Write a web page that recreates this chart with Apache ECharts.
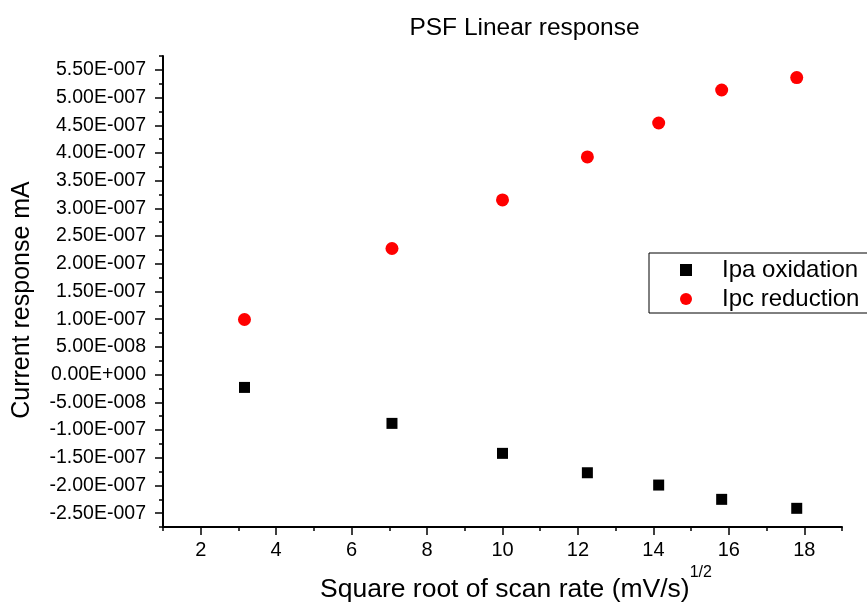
<!DOCTYPE html>
<html>
<head>
<meta charset="utf-8">
<script src="https://cdn.jsdelivr.net/npm/echarts@6/dist/echarts.min.js"></script>
<style>html,body{margin:0;padding:0;background:#fff;}#c{width:867px;height:604px;}</style>
</head>
<body>
<div id="c"></div>
<script>
// Data
var xValues = [3.16, 7.07, 10.0, 12.25, 14.14, 15.81, 17.80];
var ipaOxidation = [-2.31e-8, -8.80e-8, -1.421e-7, -1.771e-7, -1.993e-7, -2.251e-7, -2.413e-7];
var ipcReduction = [9.95e-8, 2.276e-7, 3.152e-7, 3.928e-7, 4.541e-7, 5.136e-7, 5.36e-7];
var seriesNames = ['Ipa oxidation', 'Ipc reduction'];
var xTickValues = [2, 4, 6, 8, 10, 12, 14, 16, 18];
var yTickValues = [-2.5e-7, -2.0e-7, -1.5e-7, -1.0e-7, -5.0e-8, 0, 5.0e-8, 1.0e-7, 1.5e-7, 2.0e-7, 2.5e-7, 3.0e-7, 3.5e-7, 4.0e-7, 4.5e-7, 5.0e-7, 5.5e-7];
var yTickLabels = ['-2.50E-007', '-2.00E-007', '-1.50E-007', '-1.00E-007', '-5.00E-008', '0.00E+000', '5.00E-008', '1.00E-007', '1.50E-007', '2.00E-007', '2.50E-007', '3.00E-007', '3.50E-007', '4.00E-007', '4.50E-007', '5.00E-007', '5.50E-007'];

function yLabel(v) {
  var best = 0, bd = Infinity;
  for (var i = 0; i < yTickValues.length; i++) {
    var d = Math.abs(yTickValues[i] - v);
    if (d < bd) { bd = d; best = i; }
  }
  return yTickLabels[best];
}

var FONT = '"Liberation Sans", Arial, Helvetica, sans-serif';
var chart = echarts.init(document.getElementById('c'), null, { renderer: 'canvas' });

var pairs = function (ys) { return xValues.map(function (x, i) { return [x, ys[i]]; }); };

chart.setOption({
  animation: false,
  backgroundColor: '#ffffff',
  textStyle: { fontFamily: FONT },
  title: {
    text: 'PSF Linear response',
    left: 519.5, top: 11, textAlign: 'center',
    textStyle: { fontFamily: FONT, fontSize: 24.5, fontWeight: 'normal', color: '#000' }
  },
  grid: { left: 163, right: 25, top: 56, bottom: 77, containLabel: false },
  legend: {
    orient: 'vertical',
    left: 649, top: 253,
    padding: [5, 20, 2, 31],
    itemWidth: 12, itemHeight: 12,
    itemGap: 5,
    borderColor: '#000', borderWidth: 1,
    textStyle: { fontFamily: FONT, fontSize: 24, color: '#000', padding: [0, 0, 0, 25] },
    data: [
      { name: seriesNames[0], icon: 'rect' },
      { name: seriesNames[1], icon: 'circle' }
    ]
  },
  xAxis: [{
    type: 'value', min: 1, max: 19, position: 'bottom',
    axisLine: { show: true, onZero: false, lineStyle: { color: '#000', width: 2 } },
    axisTick: { show: true, customValues: xTickValues, length: 8, lineStyle: { color: '#000', width: 1.5 } },
    axisLabel: { customValues: xTickValues, margin: 13, fontFamily: FONT, fontSize: 20, color: '#000' },
    splitLine: { show: false }
  }, {
    type: 'value', min: 1, max: 19, interval: 1, position: 'bottom',
    axisLine: { show: false, onZero: false },
    axisTick: { show: true, length: 4, lineStyle: { color: '#000', width: 1.5 } },
    axisLabel: { show: false },
    splitLine: { show: false }
  }],
  yAxis: [{
    type: 'value', min: -2.75e-7, max: 5.75e-7, position: 'left',
    axisLine: { show: true, onZero: false, lineStyle: { color: '#000', width: 2 } },
    axisTick: { show: true, customValues: yTickValues, length: 8, lineStyle: { color: '#000', width: 1.5 } },
    axisLabel: { customValues: yTickValues, margin: 17, fontFamily: FONT, fontSize: 19.5, color: '#000', formatter: yLabel },
    splitLine: { show: false }
  }, {
    type: 'value', min: -2.75e-7, max: 5.75e-7, interval: 2.5e-8, position: 'left',
    axisLine: { show: false, onZero: false },
    axisTick: { show: true, length: 4, lineStyle: { color: '#000', width: 1.5 } },
    axisLabel: { show: false },
    splitLine: { show: false }
  }],
  graphic: [{
    type: 'text', x: 320, y: 590,
    style: {
      text: '{a|Square root of scan rate (mV/s)}{b|1/2}',
      verticalAlign: 'middle', align: 'left',
      rich: {
        a: { fontFamily: FONT, fontSize: 26.5, lineHeight: 50, fill: '#000', color: '#000' },
        b: { fontFamily: FONT, fontSize: 16, lineHeight: 16, fill: '#000', color: '#000', verticalAlign: 'top' }
      }
    }
  }, {
    type: 'text', x: 22, y: 300, rotation: Math.PI / 2,
    style: {
      text: 'Current response mA', align: 'center', verticalAlign: 'middle',
      font: '25px "Liberation Sans", Arial, sans-serif', fill: '#000'
    }
  }],
  series: [{
    name: seriesNames[0], type: 'scatter', xAxisIndex: 0, yAxisIndex: 0,
    symbol: 'rect', symbolSize: 11,
    itemStyle: { color: '#000', opacity: 1 },
    data: pairs(ipaOxidation)
  }, {
    name: seriesNames[1], type: 'scatter', xAxisIndex: 0, yAxisIndex: 0,
    symbol: 'circle', symbolSize: 13,
    itemStyle: { color: '#ff0000', opacity: 1 },
    data: pairs(ipcReduction)
  }]
});
</script>
</body>
</html>
